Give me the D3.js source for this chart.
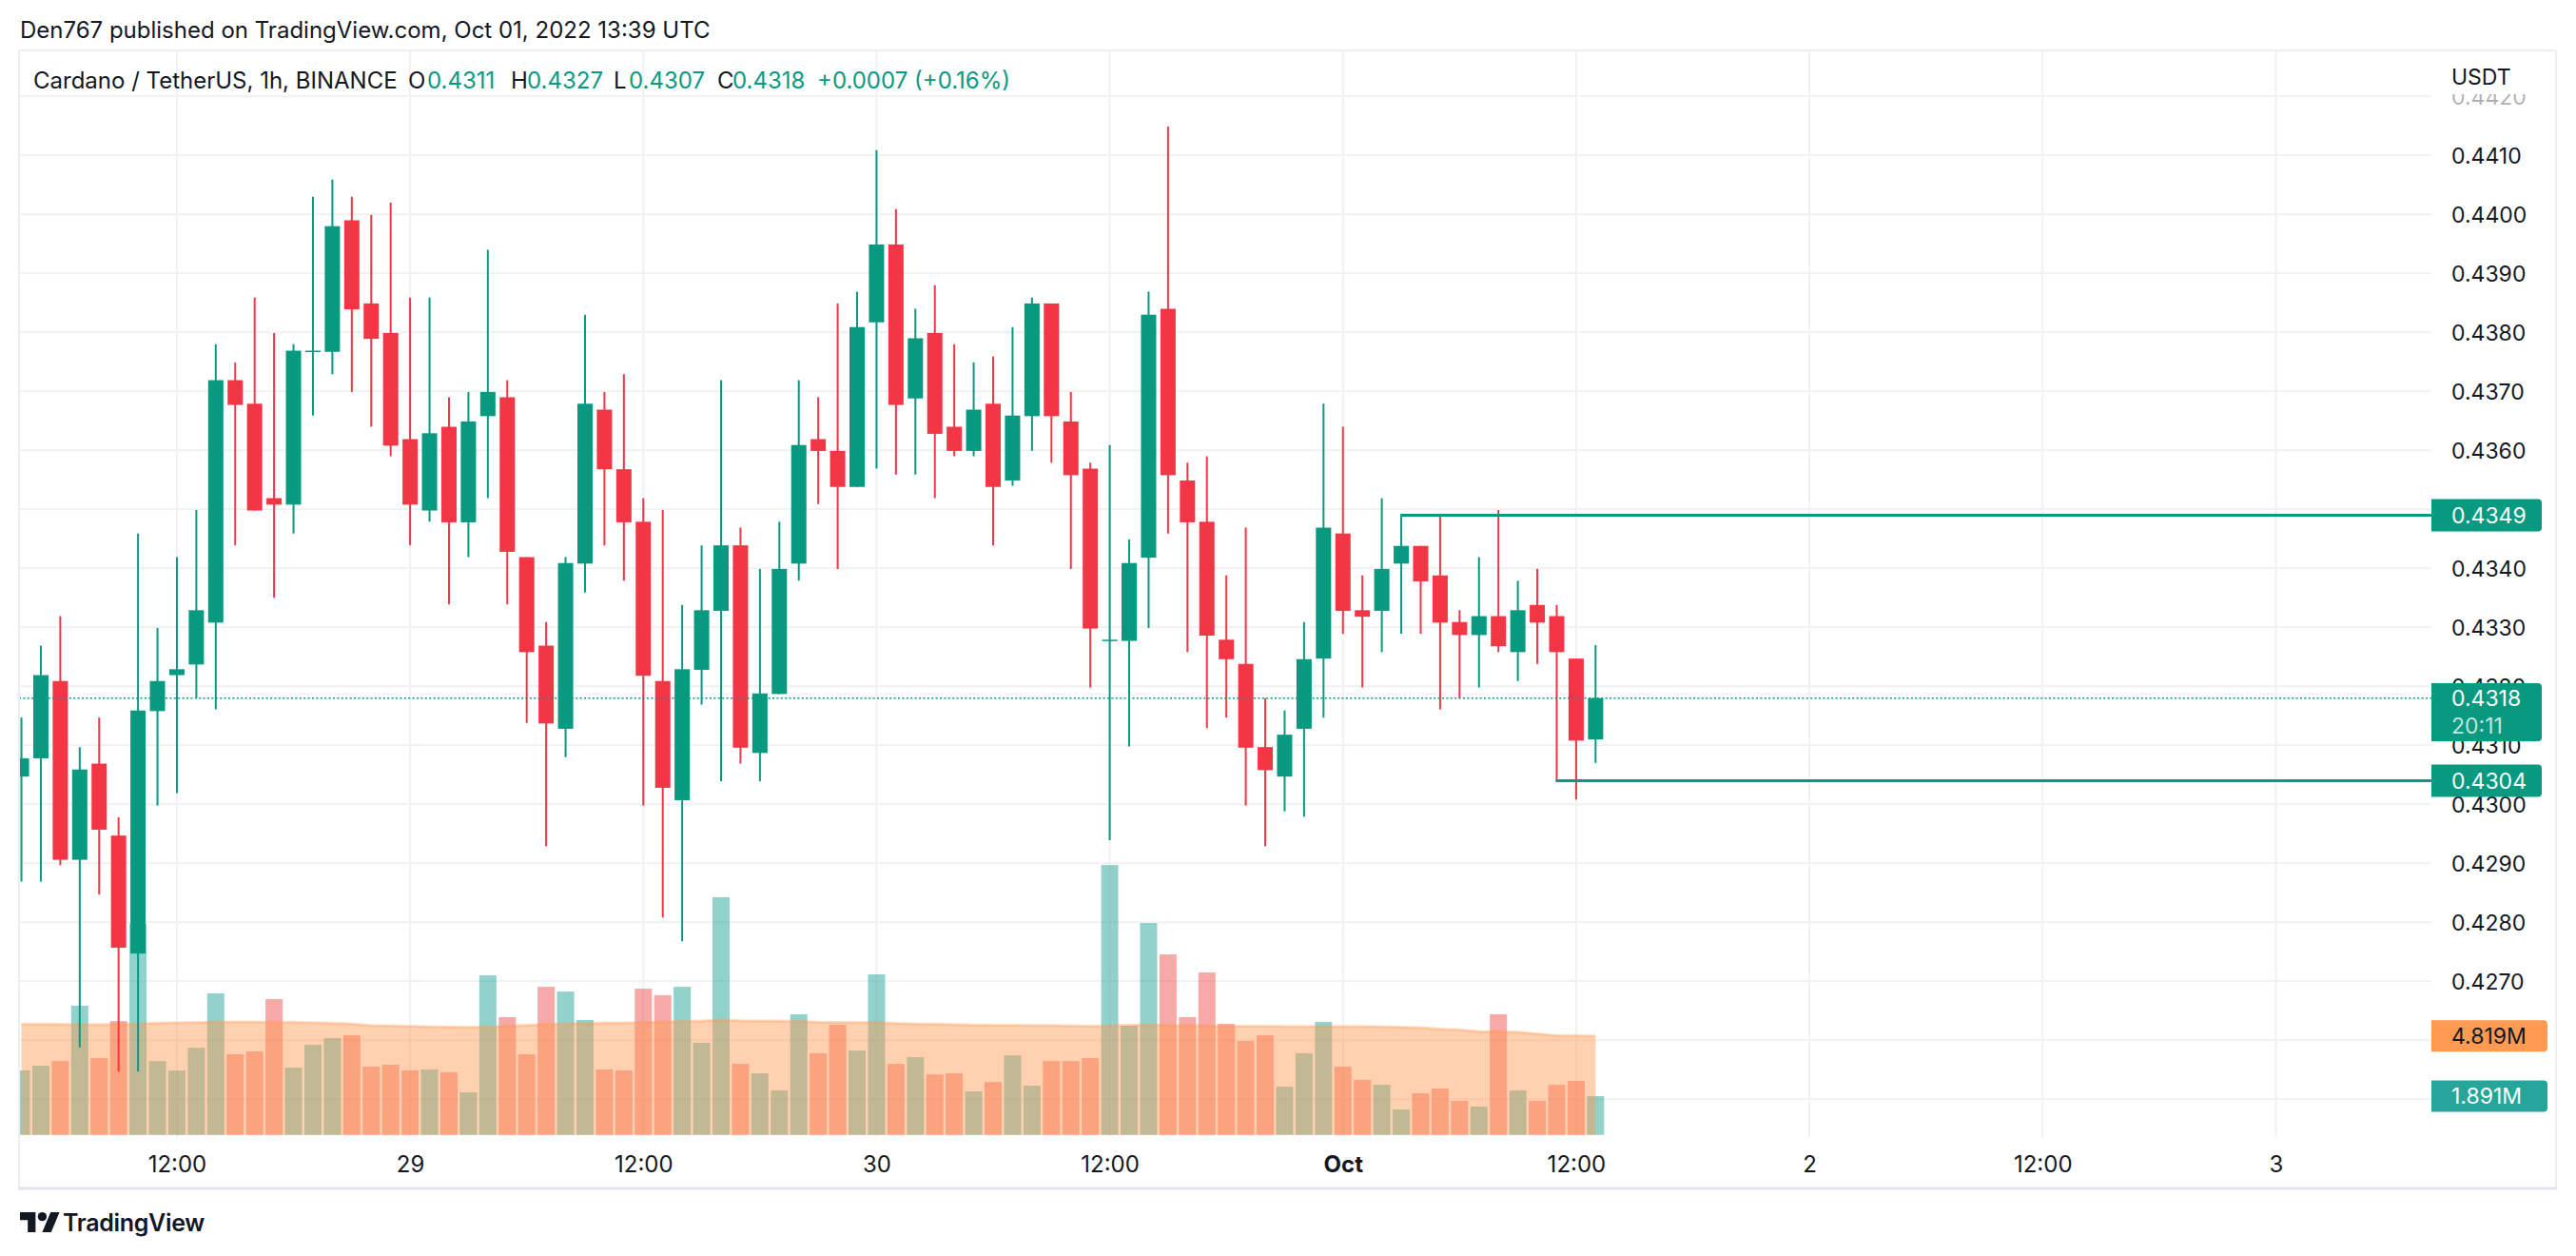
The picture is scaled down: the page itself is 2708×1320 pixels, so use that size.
<!DOCTYPE html>
<html><head><meta charset="utf-8">
<script src="https://cdn.jsdelivr.net/npm/d3@7"></script>
<style>
body{margin:0;background:#fff;}
svg{display:block;font-family:Inter,"Noto Sans",sans-serif;}
</style>
</head><body>
<svg id="chart" width="2708" height="1320"></svg>
<script>
// ---------------- DATA ----------------
const firstCandle = "2022-09-28T04:00:00Z"; // hourly candles
const open = [0.43047,0.43078,0.43209,0.42906,0.43069,0.42947,0.42747,0.43158,0.43219,0.43237,0.43308,0.43719,0.43679,0.43519,0.43508,0.43768,0.43767,0.43990,0.43849,0.43799,0.43619,0.43498,0.43640,0.43478,0.43658,0.43690,0.43419,0.43269,0.43128,0.43408,0.43669,0.43568,0.43479,0.43209,0.43007,0.43228,0.43328,0.43439,0.43087,0.43187,0.43408,0.43619,0.43599,0.43538,0.43817,0.43949,0.43688,0.43799,0.43640,0.43599,0.43679,0.43549,0.43658,0.43849,0.43649,0.43569,0.43277,0.43277,0.43418,0.43840,0.43549,0.43479,0.43279,0.43238,0.43097,0.43047,0.43128,0.43247,0.43459,0.43329,0.43328,0.43408,0.43438,0.43388,0.43309,0.43287,0.43319,0.43258,0.43338,0.43319,0.43247,0.4311];
const high = [0.43147,0.43269,0.43319,0.43097,0.43147,0.42978,0.43459,0.43299,0.43419,0.43499,0.43780,0.43749,0.43859,0.43799,0.43780,0.44030,0.44059,0.44030,0.43999,0.44020,0.43859,0.43859,0.43690,0.43699,0.43940,0.43719,0.43419,0.43309,0.43419,0.43830,0.43699,0.43729,0.43519,0.43499,0.43338,0.43439,0.43719,0.43469,0.43399,0.43479,0.43719,0.43690,0.43849,0.43869,0.44109,0.44009,0.43840,0.43880,0.43780,0.43749,0.43759,0.43809,0.43859,0.43849,0.43699,0.43579,0.43609,0.43449,0.43869,0.44149,0.43579,0.43590,0.43388,0.43469,0.43180,0.43159,0.43309,0.43679,0.43640,0.43388,0.43519,0.43488,0.43438,0.43488,0.43329,0.43419,0.43499,0.43379,0.43399,0.43338,0.43247,0.4327];
const low = [0.42869,0.42869,0.42897,0.42588,0.42847,0.42547,0.42547,0.42998,0.43019,0.43180,0.43161,0.43439,0.43498,0.43350,0.43459,0.43659,0.43729,0.43699,0.43640,0.43590,0.43439,0.43479,0.43339,0.43419,0.43519,0.43339,0.43138,0.42929,0.43080,0.43359,0.43439,0.43379,0.42998,0.42808,0.42768,0.43169,0.43039,0.43069,0.43039,0.43187,0.43379,0.43509,0.43399,0.43538,0.43569,0.43559,0.43559,0.43519,0.43590,0.43590,0.43439,0.43540,0.43599,0.43579,0.43399,0.43198,0.42939,0.43098,0.43299,0.43459,0.43258,0.43129,0.43147,0.42998,0.42929,0.42988,0.42979,0.43147,0.43289,0.43198,0.43258,0.43289,0.43289,0.43161,0.43180,0.43198,0.43258,0.43209,0.43238,0.43039,0.43008,0.4307];
const close = [0.43078,0.43219,0.42906,0.43059,0.42957,0.42757,0.43159,0.43209,0.43229,0.43329,0.43719,0.43677,0.43498,0.43508,0.43769,0.43769,0.43980,0.43839,0.43789,0.43608,0.43508,0.43629,0.43478,0.43649,0.43699,0.43428,0.43258,0.43137,0.43409,0.43679,0.43568,0.43478,0.43218,0.43028,0.43229,0.43329,0.43439,0.43096,0.43188,0.43399,0.43609,0.43599,0.43538,0.43809,0.43949,0.43677,0.43790,0.43628,0.43599,0.43669,0.43538,0.43659,0.43849,0.43658,0.43558,0.43298,0.43279,0.43409,0.43830,0.43558,0.43478,0.43286,0.43246,0.43096,0.43058,0.43118,0.43246,0.43469,0.43328,0.43318,0.43399,0.43438,0.43378,0.43308,0.43287,0.43319,0.43268,0.43329,0.43308,0.43258,0.43108,0.4318];
const volumeM = [3.14,3.37,3.60,6.30,3.74,5.55,10.30,3.60,3.14,4.25,6.90,3.93,4.07,6.62,3.28,4.39,4.72,4.86,3.33,3.42,3.14,3.19,3.05,2.07,7.78,5.74,3.93,7.22,6.99,5.60,3.19,3.14,7.13,6.81,7.22,4.49,11.59,3.46,3.00,2.17,5.88,3.98,5.37,4.11,7.83,3.46,3.79,2.95,3.00,2.12,2.58,3.88,2.40,3.60,3.60,3.74,13.16,5.32,10.33,8.80,5.74,7.92,5.41,4.58,4.86,2.35,3.98,5.51,3.33,2.68,2.44,1.24,2.03,2.26,1.66,1.38,5.88,2.17,1.66,2.44,2.63,1.891];
const volumeMA = [5.40,5.40,5.39,5.38,5.38,5.39,5.41,5.45,5.47,5.49,5.51,5.51,5.51,5.50,5.50,5.47,5.45,5.42,5.33,5.32,5.30,5.28,5.26,5.25,5.27,5.31,5.34,5.39,5.41,5.44,5.46,5.46,5.48,5.51,5.53,5.56,5.61,5.57,5.56,5.55,5.54,5.50,5.49,5.48,5.48,5.44,5.42,5.40,5.38,5.36,5.35,5.34,5.33,5.33,5.32,5.30,5.32,5.34,5.37,5.35,5.33,5.33,5.30,5.30,5.30,5.29,5.29,5.29,5.29,5.29,5.28,5.25,5.23,5.16,5.13,5.04,5.03,5.01,4.93,4.85,4.83,4.819];

const priceTicks = [0.4420,0.4410,0.4400,0.4390,0.4380,0.4370,0.4360,0.4350,0.4340,0.4330,0.4320,0.4310,0.4300,0.4290,0.4280,0.4270];
const priceGrid = [0.4420,0.4410,0.4400,0.4390,0.4380,0.4370,0.4360,0.4350,0.4340,0.4330,0.4320,0.4310,0.4300,0.4290,0.4280,0.4270,0.4260,0.4250];
const timeTicks = ["2022-09-28T12:00:00Z","2022-09-29T00:00:00Z","2022-09-29T12:00:00Z","2022-09-30T00:00:00Z","2022-09-30T12:00:00Z","2022-10-01T00:00:00Z","2022-10-01T12:00:00Z","2022-10-02T00:00:00Z","2022-10-02T12:00:00Z","2022-10-03T00:00:00Z"];
const timeLabels = ["12:00","29","12:00","30","12:00","Oct","12:00","2","12:00","3"];
const resistance = 0.4349, resistanceStart = "2022-10-01T03:00:00Z";
const support = 0.4304, supportStart = "2022-10-01T11:00:00Z";
const lastPrice = 0.4318, countdown = "20:11";
const lastVolume = 1.891, lastVolumeMA = 4.819;

const headerText = "Den767 published on TradingView.com, Oct 01, 2022 13:39 UTC";
const symbolText = "Cardano / TetherUS, 1h, BINANCE";
const ohlcLabels = [["O","0.4311"],["H","0.4327"],["L","0.4307"],["C","0.4318"]];
const changeText = "+0.0007 (+0.16%)";

// ---------------- SETUP ----------------
const UP = "#089981", DOWN = "#f23645", TXT = "#131722", GRID = "#f0f1f4";
const svg = d3.select("#chart");
const P = {left:20, right:2556, top:53, bottom:1195, frameRight:2687, axisBottom:1249};
const t0 = Date.parse(firstCandle);
const candles = open.map((o,i)=>({t:new Date(t0 + i*3600e3), o, h:high[i], l:low[i], c:close[i], v:volumeM[i], ma:volumeMA[i]}));

const x = d3.scaleUtc().domain([new Date("2022-09-28T00:00:00Z"), new Date("2022-10-03T00:00:00Z")]).range([-59.2, 2392.4]);
const y = d3.scaleLinear().domain([0.4420, 0.4270]).range([101.3, 1031.3]);
const vy = d3.scaleLinear().domain([0, 10]).range([1192.7, 977.2]);

svg.append("rect").attr("width",2708).attr("height",1320).attr("fill","#fff");

const defs = svg.append("defs");
defs.append("clipPath").attr("id","plotclip").append("rect")
  .attr("x",P.left+1).attr("y",P.top).attr("width",P.right-P.left-1).attr("height",P.bottom-P.top);
defs.append("clipPath").attr("id","axisclip").append("rect")
  .attr("x",P.right).attr("y",99).attr("width",200).attr("height",1100);

// grid
const grid = svg.append("g");
grid.selectAll("line.h").data(priceGrid).join("line")
  .attr("x1",P.left).attr("x2",P.right).attr("y1",d=>y(d)).attr("y2",d=>y(d))
  .attr("stroke",GRID).attr("stroke-width",2);
grid.selectAll("line.v").data(timeTicks).join("line")
  .attr("x1",d=>x(new Date(d))).attr("x2",d=>x(new Date(d))).attr("y1",P.top).attr("y2",P.bottom)
  .attr("stroke",GRID).attr("stroke-width",2);

const plot = svg.append("g").attr("clip-path","url(#plotclip)");

// volume bars
plot.append("g").selectAll("rect").data(candles).join("rect")
  .attr("x",d=>x(d.t)-9).attr("width",18)
  .attr("y",d=>vy(d.v)).attr("height",d=>vy(0)-vy(d.v))
  .attr("fill",d=>d.c>=d.o ? "rgba(38,166,154,0.5)" : "rgba(239,83,80,0.5)");

// volume MA area
const area = d3.area().x(d=>x(d.t)).y0(vy(0)).y1(d=>vy(d.ma));
plot.append("path").datum(candles).attr("d",area).attr("fill","rgba(255,152,80,0.45)");
plot.append("path").datum(candles).attr("d",d3.line().x(d=>x(d.t)).y(d=>vy(d.ma)))
  .attr("fill","none").attr("stroke","rgba(255,152,80,0.35)").attr("stroke-width",3);

// candles
const cg = plot.append("g");
cg.selectAll("line").data(candles).join("line")
  .attr("x1",d=>x(d.t)).attr("x2",d=>x(d.t)).attr("y1",d=>y(d.h)).attr("y2",d=>y(d.l))
  .attr("stroke",d=>d.c>=d.o?UP:DOWN).attr("stroke-width",2);
cg.selectAll("rect").data(candles).join("rect")
  .attr("x",d=>x(d.t)-8).attr("width",16)
  .attr("y",d=>Math.min(y(d.o),y(d.c)))
  .attr("height",d=>Math.max(1.5, Math.abs(y(d.o)-y(d.c))))
  .attr("fill",d=>d.c>=d.o?UP:DOWN);

// last price dotted line
plot.append("line").attr("x1",P.left).attr("x2",P.right).attr("y1",y(lastPrice)).attr("y2",y(lastPrice))
  .attr("stroke",UP).attr("stroke-width",1.5).attr("stroke-dasharray","2,2.4");

// support / resistance lines
[[resistance,resistanceStart],[support,supportStart]].forEach(([p,s])=>{
  plot.append("line").attr("x1",x(new Date(s))-1).attr("x2",P.right).attr("y1",y(p)).attr("y2",y(p))
    .attr("stroke",UP).attr("stroke-width",3);
});

// frame
svg.append("line").attr("x1",P.left).attr("x2",P.left).attr("y1",P.top).attr("y2",P.axisBottom).attr("stroke","#eceef2").attr("stroke-width",2);
svg.append("line").attr("x1",P.frameRight).attr("x2",P.frameRight).attr("y1",P.top).attr("y2",P.axisBottom).attr("stroke","#eceef2").attr("stroke-width",2);
svg.append("line").attr("x1",P.left).attr("x2",P.frameRight).attr("y1",P.top).attr("y2",P.top).attr("stroke","#eceef2").attr("stroke-width",2);
svg.append("line").attr("x1",P.left-1).attr("x2",P.frameRight+1).attr("y1",P.axisBottom).attr("y2",P.axisBottom).attr("stroke","#e0e3eb").attr("stroke-width",3);

// price axis
const yAxis = d3.axisRight(y).tickValues(priceTicks).tickFormat(d3.format(".4f")).tickSize(0).tickPadding(0);
const yaWrap = svg.append("g").attr("clip-path","url(#axisclip)");
const ya = yaWrap.append("g").attr("transform",`translate(${P.right+21},0)`).call(yAxis);
ya.select(".domain").remove();
ya.selectAll("text").attr("font-size",23).attr("font-family","Inter").attr("fill",TXT).attr("text-anchor","start").attr("dy","0.36em")
  .attr("fill-opacity",d=>d===0.4420?0.35:1);
svg.append("text").attr("x",P.right+21).attr("y",81).attr("dy","0.36em").attr("font-size",23).attr("fill",TXT).text("USDT");

// time axis
const xAxis = d3.axisBottom(x).tickValues(timeTicks.map(d=>new Date(d))).tickFormat((d,i)=>timeLabels[i]).tickSize(0).tickPadding(0);
const xa = svg.append("g").attr("transform",`translate(0,1223)`).call(xAxis);
xa.select(".domain").remove();
xa.selectAll("text").attr("font-size",24).attr("font-family","Inter").attr("fill",TXT).attr("dy","0.36em")
  .attr("font-weight",(d,i)=>timeLabels[i]==="Oct"?700:400);

// axis label boxes
function box(cy, h, w, fill){
  svg.append("path").attr("fill",fill)
    .attr("d",`M${P.right},${cy-h/2}H${P.right+w-4}a4,4 0 0 1 4,4V${cy+h/2-4}a4,4 0 0 1 -4,4H${P.right}Z`);
}
function boxText(cy, txt, fill, op){
  svg.append("text").attr("x",P.right+21).attr("y",cy).attr("dy","0.36em").attr("font-size",23)
    .attr("fill",fill).attr("fill-opacity",op||1).text(txt);
}
box(y(resistance),34,116,UP); boxText(y(resistance),d3.format(".4f")(resistance),"#fff");
box(748.4,61,116,UP); boxText(y(lastPrice),d3.format(".4f")(lastPrice),"#fff"); boxText(762.5,countdown,"#fff",0.75);
box(y(support),34,116,UP); boxText(y(support),d3.format(".4f")(support),"#fff");
box(vy(lastVolumeMA),33,122,"#ff9a52"); boxText(vy(lastVolumeMA),d3.format(".3f")(lastVolumeMA)+"M",TXT);
box(vy(lastVolume),33,122,"#26a69a"); boxText(vy(lastVolume),d3.format(".3f")(lastVolume)+"M","#fff");

// header
svg.append("text").attr("x",21).attr("y",40).attr("font-size",24).attr("fill",TXT).text(headerText);
const lg = svg.append("text").attr("y",93).attr("font-size",24).attr("fill",TXT);
lg.append("tspan").attr("x",35).text(symbolText);
const ohlcX = [[429,449],[537,554],[645,661],[754,770]];
ohlcLabels.forEach(([k,val],i)=>{
  lg.append("tspan").attr("x",ohlcX[i][0]).attr("fill",TXT).text(k);
  lg.append("tspan").attr("x",ohlcX[i][1]).attr("fill",UP).text(val);
});
lg.append("tspan").attr("x",859).attr("fill",UP).text(changeText);

// footer logo
const logo = svg.append("g").attr("transform","translate(21,1269.3) scale(1.17)").attr("fill",TXT);
logo.append("path").attr("d","M14 22H7V11H0V4h14v18zM28 22h-8l7.5-18h8L28 22z");
logo.append("circle").attr("cx",20).attr("cy",8).attr("r",4);
svg.append("text").attr("x",66).attr("y",1294).attr("font-size",25).attr("font-weight",600).attr("fill",TXT).attr("letter-spacing",-0.3).text("TradingView");
</script>
</body></html>
